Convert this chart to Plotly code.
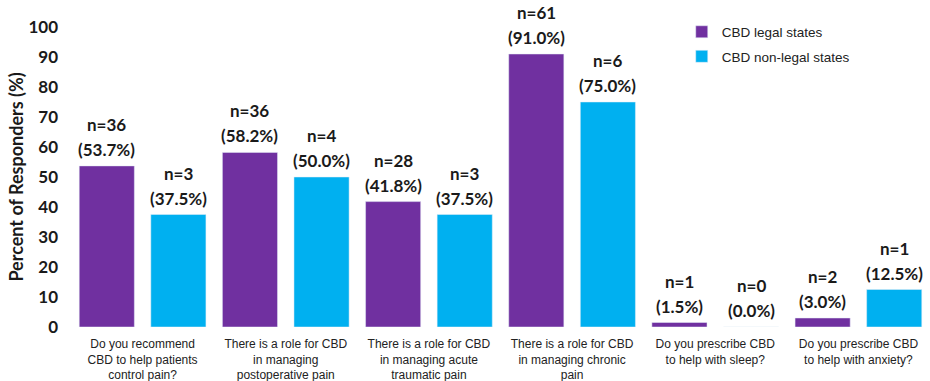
import plotly.graph_objects as go

categories = [
    "Do you recommend<br>CBD to help patients<br>control pain?",
    "There is a role for CBD<br>in managing<br>postoperative pain",
    "There is a role for CBD<br>in managing acute<br>traumatic pain",
    "There is a role for CBD<br>in managing chronic<br>pain",
    "Do you prescribe CBD<br>to help with sleep?",
    "Do you prescribe CBD<br>to help with anxiety?",
]
legal_pct = [53.7, 58.2, 41.8, 91.0, 1.5, 3.0]
legal_n = [36, 36, 28, 61, 1, 2]
nonlegal_pct = [37.5, 50.0, 37.5, 75.0, 0.0, 12.5]
nonlegal_n = [3, 4, 3, 6, 0, 1]
y_ticks = [0, 10, 20, 30, 40, 50, 60, 70, 80, 90, 100]

label_font = dict(family="Lato, 'Open Sans', sans-serif", size=17, color="#1a1a1a")

fig = go.Figure()
fig.add_trace(go.Bar(
    x=categories, y=legal_pct, name="CBD legal states", legendgroup="a",
    marker=dict(color="#7030A0"), cliponaxis=False,
))
fig.add_trace(go.Bar(
    x=categories, y=nonlegal_pct, name="CBD non-legal states", legendgroup="b",
    marker=dict(color="#00B0F0"), cliponaxis=False,
))

# value labels: two lines above each bar, offset to each bar of the group
group_shift = 35.8
for shift, ns, ps in [(-group_shift, legal_n, legal_pct), (group_shift, nonlegal_n, nonlegal_pct)]:
    for cat, n, p in zip(categories, ns, ps):
        fig.add_annotation(x=cat, y=p, xref="x", yref="y", text=f"<b>({p:.1f}%)</b>",
                           showarrow=False, xshift=shift, yshift=4, yanchor="bottom",
                           font=label_font)
        fig.add_annotation(x=cat, y=p, xref="x", yref="y", text=f"<b>n={n}</b>",
                           showarrow=False, xshift=shift, yshift=29, yanchor="bottom",
                           font=label_font)

fig.update_layout(
    width=930, height=381,
    margin=dict(l=71, r=0, t=27, b=54, autoexpand=False),
    paper_bgcolor="white", plot_bgcolor="white",
    barmode="group", bargap=0.0, bargroupgap=0.23,
    showlegend=True,
    legend=dict(x=0.711, y=1.035, xanchor="left", yanchor="top",
                font=dict(family="Liberation Sans, Arial, sans-serif", size=13.5, color="#222"),
                bgcolor="rgba(0,0,0,0)", tracegroupgap=4),
)
fig.update_yaxes(
    range=[0, 100], tickvals=y_ticks, showgrid=False, zeroline=False, showline=False,
    automargin=False,
    tickfont=dict(family="Lato, 'Open Sans', sans-serif", size=17, color="#1a1a1a", weight="bold"),
    title=dict(text="<b>Percent of Responders (%)</b>",
               font=dict(family="Lato, 'Open Sans', sans-serif", size=18, color="#1a1a1a"),
               standoff=0),
    ticks="", ticklabelstandoff=12,
)
fig.update_xaxes(
    showgrid=False, showline=False, ticks="", automargin=False,
    tickfont=dict(family="Liberation Sans, Arial, sans-serif", size=12, color="#222"),
    tickangle=0, ticklabelstandoff=8,
)

fig.write_html("out.html")
